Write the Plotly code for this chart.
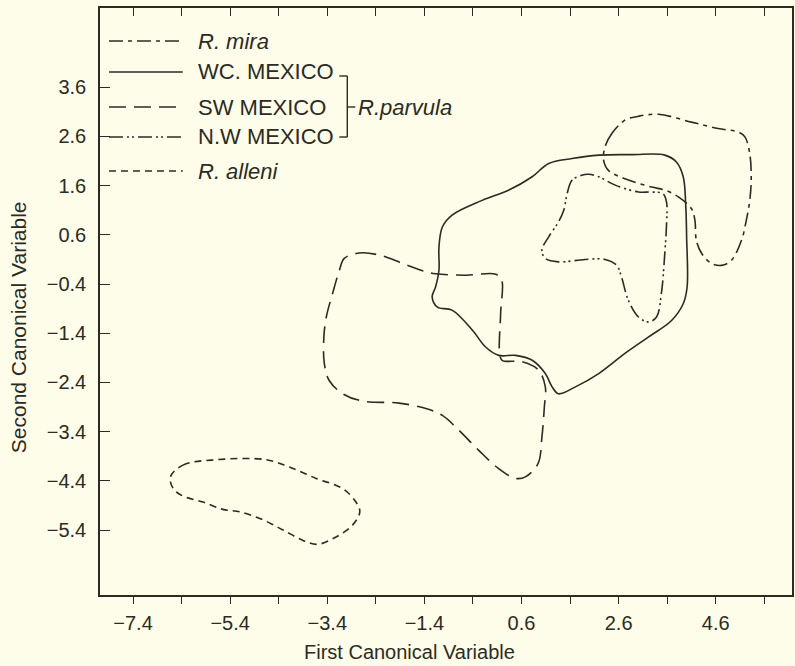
import plotly.graph_objects as go

# ---------------- data ----------------
mira_x = [2.73, 2.46, 2.32, 2.29, 2.39, 2.73, 3.28, 3.55, 3.83, 4.10, 4.17, 4.20, 4.31,
          4.51, 4.72, 4.92, 5.13, 5.23, 5.30, 5.33, 5.30, 5.20, 5.06, 4.65, 4.10, 3.42, 3.01]
mira_y = [2.93, 2.66, 2.39, 2.12, 1.91, 1.74, 1.57, 1.51, 1.37, 1.13, 0.90, 0.49, 0.22,
          0.02, -0.02, 0.08, 0.49, 0.90, 1.30, 1.71, 2.25, 2.59, 2.69, 2.76, 2.89, 3.05, 3.01]

wc_x = [2.19, 2.87, 3.55, 3.79, 3.93, 3.98, 4.00, 4.01, 3.93, 3.69, 3.21, 2.73, 2.19, 1.71,
        1.36, 1.23, 1.09, 0.82, 0.48, 0.13, -0.14, -0.41, -0.83, -1.13, -1.24, -1.17, -1.10,
        -1.10, -1.03, -0.83, -0.21, 0.34, 0.82, 1.16, 1.64]
wc_y = [2.22, 2.23, 2.22, 2.08, 1.78, 1.24, 0.56, -0.46, -0.80, -1.14, -1.48, -1.81, -2.22,
        -2.49, -2.63, -2.49, -2.22, -1.95, -1.85, -1.85, -1.68, -1.34, -0.93, -0.87, -0.66,
        -0.46, -0.12, 0.35, 0.76, 1.00, 1.30, 1.51, 1.78, 2.05, 2.15]

sw_x = [-3.05, -2.74, -2.33, -1.85, -1.44, -1.17, -0.55, 0.07, 0.19, 0.17, 0.15, 0.20, 0.61,
        0.95, 1.09, 1.07, 1.02, 0.94, 0.68, 0.48, 0.13, -0.28, -0.69, -1.03, -1.37, -1.92,
        -2.67, -3.08, -3.36, -3.46, -3.47, -3.42, -3.29, -3.15]
sw_y = [0.12, 0.23, 0.19, 0.02, -0.13, -0.19, -0.22, -0.20, -0.31, -1.00, -1.81, -1.95, -1.98,
        -2.15, -2.49, -2.90, -3.51, -4.05, -4.32, -4.35, -4.15, -3.78, -3.37, -3.07, -2.93,
        -2.82, -2.78, -2.63, -2.36, -2.02, -1.48, -1.07, -0.59, -0.12]

nw_x = [1.84, 1.64, 1.54, 1.47, 1.36, 1.16, 1.02, 1.09, 1.36, 1.91, 2.32, 2.56, 2.66, 2.80,
        3.01, 3.21, 3.38, 3.48, 3.55, 3.59, 3.59, 3.52, 3.28, 3.01, 2.53, 2.19, 1.98]
nw_y = [1.81, 1.71, 1.44, 1.10, 0.86, 0.56, 0.29, 0.12, 0.05, 0.10, 0.10, -0.02, -0.26, -0.73,
        -1.07, -1.17, -1.07, -0.59, 0.22, 0.90, 1.24, 1.43, 1.47, 1.47, 1.61, 1.78, 1.83]

alleni_x = [-6.63, -6.37, -5.68, -4.66, -4.18, -3.63, -3.08, -2.81, -2.73, -2.88, -3.22, -3.60,
            -3.90, -4.31, -4.73, -5.20, -5.55, -5.96, -6.37, -6.57]
alleni_y = [-4.32, -4.08, -3.97, -3.97, -4.12, -4.35, -4.56, -4.83, -5.03, -5.30, -5.54, -5.69,
            -5.61, -5.40, -5.19, -5.03, -4.98, -4.83, -4.71, -4.56]

x_tick_vals = [-7.4, -6.4, -5.4, -4.4, -3.4, -2.4, -1.4, -0.4, 0.6, 1.6, 2.6, 3.6, 4.6, 5.6]
x_tick_text = ["−7.4", "", "−5.4", "", "−3.4", "", "−1.4", "", "0.6", "", "2.6", "", "4.6", ""]
y_tick_vals = [3.6, 2.6, 1.6, 0.6, -0.4, -1.4, -2.4, -3.4, -4.4, -5.4]
y_tick_text = ["3.6", "2.6", "1.6", "0.6", "−0.4", "−1.4", "−2.4", "−3.4", "−4.4", "−5.4"]

series_names = ["R. mira", "WC. MEXICO", "SW MEXICO", "N.W MEXICO", "R. alleni"]
series_labels = ["<i>R. mira</i>", "WC. MEXICO", "SW MEXICO", "N.W MEXICO", "<i>R. alleni</i>"]

# ---------------- style ----------------
INK = "#2b2b24"
BG = "#fdfde9"
FONT = "Liberation Sans"
dashes = ["14px,5px,4px,5px", "solid", "17px,8px", "14px,4px,2px,3px,2px,4px", "7px,5px"]

fig = go.Figure()
series = [(mira_x, mira_y), (wc_x, wc_y), (sw_x, sw_y), (nw_x, nw_y), (alleni_x, alleni_y)]
for (xs, ys), name, dash in zip(series, series_names, dashes):
    fig.add_trace(go.Scatter(
        x=list(xs) + [xs[0]], y=list(ys) + [ys[0]], mode="lines", name=name,
        line=dict(color=INK, width=1.6, dash=dash, shape="spline", smoothing=1.0),
        showlegend=False, hoverinfo="skip"))

# invisible trace to activate top axis (inside ticks)
fig.add_trace(go.Scatter(x=[x_tick_vals[0]], y=[0], xaxis="x2", mode="markers",
                         marker=dict(opacity=0), showlegend=False, hoverinfo="skip"))

XR = [-8.08, 6.17]
YR = [-6.72, 5.21]

fig.update_layout(
    width=795, height=666,
    margin=dict(l=100, r=1, t=8, b=71),
    paper_bgcolor=BG, plot_bgcolor=BG,
    font=dict(family=FONT, color=INK, size=20),
    xaxis=dict(range=XR, showgrid=False, zeroline=False, showline=True, linecolor=INK,
               linewidth=1.6, mirror=True, ticks="outside", ticklen=7, tickwidth=1.4,
               tickcolor=INK, tickvals=x_tick_vals, ticktext=x_tick_text,
               tickfont=dict(size=20), ticklabelstandoff=2),
    xaxis2=dict(range=XR, overlaying="x", side="top", showgrid=False, zeroline=False,
                showline=False, ticks="inside", ticklen=8, tickwidth=1.4, tickcolor=INK,
                tickvals=x_tick_vals, showticklabels=False),
    yaxis=dict(range=YR, showgrid=False, zeroline=False, showline=True, linecolor=INK,
               linewidth=1.6, mirror=True, ticks="inside", ticklen=10, tickwidth=1.4,
               tickcolor=INK, tickvals=y_tick_vals, ticktext=y_tick_text,
               tickfont=dict(size=20), ticklabelstandoff=8),
)

PW, PH = 694, 587  # plot area size in pixels


def px(xp):
    return (xp - 100) / PW


def py(yp):
    return (595 - yp) / PH


# axis titles
fig.add_annotation(text="First Canonical Variable", xref="paper", yref="paper",
                   x=px(410), y=py(652), showarrow=False,
                   font=dict(size=20), xanchor="center", yanchor="middle")
fig.add_annotation(text="Second Canonical Variable", xref="paper", yref="paper",
                   x=px(18), y=py(327), showarrow=False, textangle=-90,
                   font=dict(size=21), xanchor="center", yanchor="middle")

# legend (drawn in paper space)
rows = [41, 72, 107, 137, 171]
for yrow, lab, dash in zip(rows, series_labels, dashes):
    fig.add_shape(type="line", xref="paper", yref="paper", x0=px(109), x1=px(183),
                  y0=py(yrow), y1=py(yrow), line=dict(color=INK, width=1.6, dash=dash))
    fig.add_annotation(text=lab, xref="paper", yref="paper", x=px(196), y=py(yrow),
                       xanchor="left", yanchor="middle", showarrow=False,
                       font=dict(size=22))

# bracket for R. parvula
br = dict(color=INK, width=1.4)
fig.add_shape(type="line", xref="paper", yref="paper", x0=px(348), x1=px(348),
              y0=py(76), y1=py(137), line=br)
fig.add_shape(type="line", xref="paper", yref="paper", x0=px(340), x1=px(348),
              y0=py(76), y1=py(76), line=br)
fig.add_shape(type="line", xref="paper", yref="paper", x0=px(340), x1=px(348),
              y0=py(137), y1=py(137), line=br)
fig.add_shape(type="line", xref="paper", yref="paper", x0=px(348), x1=px(356),
              y0=py(107), y1=py(107), line=br)
fig.add_annotation(text="<i>R.parvula</i>", xref="paper", yref="paper", x=px(357), y=py(107),
                   xanchor="left", yanchor="middle", showarrow=False, font=dict(size=22))

fig.write_html("out.html", config={"displayModeBar": False},
               post_script="document.body.style.margin='0';document.body.style.overflow='hidden';")
